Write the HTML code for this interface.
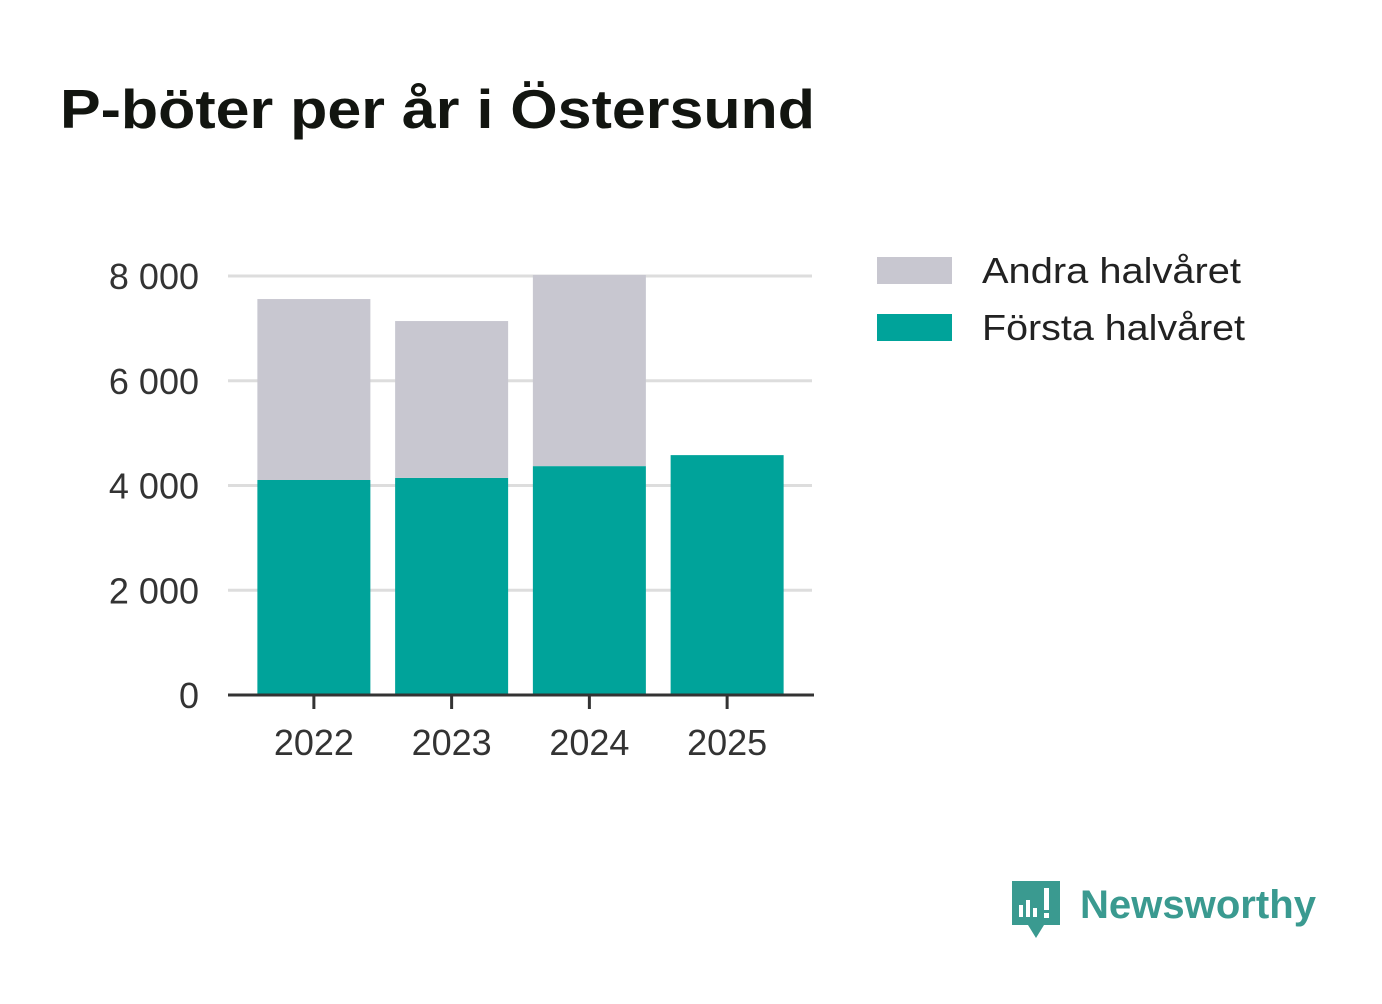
<!DOCTYPE html>
<html><head><meta charset="utf-8"><style>
body{margin:0;background:#fff;font-family:"Liberation Sans",sans-serif;}
svg text{font-family:"Liberation Sans",sans-serif;}
</style></head><body>
<svg id="c" width="1382" height="999">
<text x="60" y="128" font-size="55" font-weight="bold" fill="#121510" textLength="755" lengthAdjust="spacingAndGlyphs">P-böter per år i Östersund</text>
<g id="grid"></g><g id="bars"></g><g id="axes"></g>
<g>
<rect x="877" y="257" width="75" height="27" fill="#c8c7d0"/>
<text x="982" y="283" font-size="36" fill="#222" textLength="259" lengthAdjust="spacingAndGlyphs">Andra halvåret</text>
<rect x="877" y="314" width="75" height="27" fill="#00a39a"/>
<text x="982" y="340" font-size="36" fill="#222" textLength="263" lengthAdjust="spacingAndGlyphs">Första halvåret</text>
</g>
<g>
<path d="M1012 881 h48 v44 h-16 l-8 13 l-8 -13 h-16 z" fill="#3a9a90"/>
<rect x="1019" y="905" width="4" height="12" fill="#fff"/><rect x="1026" y="900" width="4" height="17" fill="#fff"/><rect x="1033" y="908" width="4" height="9" fill="#fff"/><rect x="1044" y="888" width="5" height="22" fill="#fff"/><rect x="1044" y="913" width="5" height="5" fill="#fff"/>
<text x="1080" y="918" font-size="40" font-weight="bold" fill="#3a9a90" textLength="236" lengthAdjust="spacingAndGlyphs">Newsworthy</text>
</g>
</svg>
<script>
const years=["2022","2023","2024","2025"];
const forsta=[4105,4145,4370,4580];
const andra=[3455,2995,3650,0];
const yTicks=[0,2000,4000,6000,8000];
const yTickLabels=["0","2 000","4 000","6 000","8 000"];
const NS="http://www.w3.org/2000/svg";
const x0=228,x1=812,y0=695,yTop=276,maxV=8000;
const b0=245,b1=796;
const step=(b1-b0)/years.length;
const y=v=>y0-(v/maxV)*(y0-yTop);
const xc=i=>b0+step*(i+0.5);
const bw=113;
function mk(t,a,p){const e=document.createElementNS(NS,t);for(const k in a)e.setAttribute(k,a[k]);document.getElementById(p).appendChild(e);return e;}
yTicks.forEach((v,i)=>{
 if(v>0){const l=mk('line',{x1:x0,x2:x1,y1:y(v),y2:y(v),stroke:'#dddddd','stroke-width':3},'grid');
 
 }
 const t=mk('text',{x:199,y:y(v)+13,'font-size':36,fill:'#333','text-anchor':'end'},'axes');
 t.textContent=yTickLabels[i];
 
 
});
years.forEach((yr,i)=>{
 const cx=xc(i);
 const r1=mk('rect',{x:cx-bw/2,y:y(forsta[i]),width:bw,height:y0-y(forsta[i]),fill:'#00a39a'},'bars');
 
 
 if(andra[i]>0){const tot=forsta[i]+andra[i];
 const r2=mk('rect',{x:cx-bw/2,y:y(tot),width:bw,height:y(forsta[i])-y(tot),fill:'#c8c7d0'},'bars');
 
 }
 const tk=mk('line',{x1:cx,x2:cx,y1:y0,y2:y0+14,stroke:'#333','stroke-width':3},'axes');
 
 
 const t=mk('text',{x:cx,y:755,'font-size':36,fill:'#333','text-anchor':'middle'},'axes');
 t.textContent=yr;
 
 
});
const ax=mk('line',{x1:x0,x2:x1+2,y1:y0,y2:y0,stroke:'#333','stroke-width':3},'axes');


</script>
</body></html>
